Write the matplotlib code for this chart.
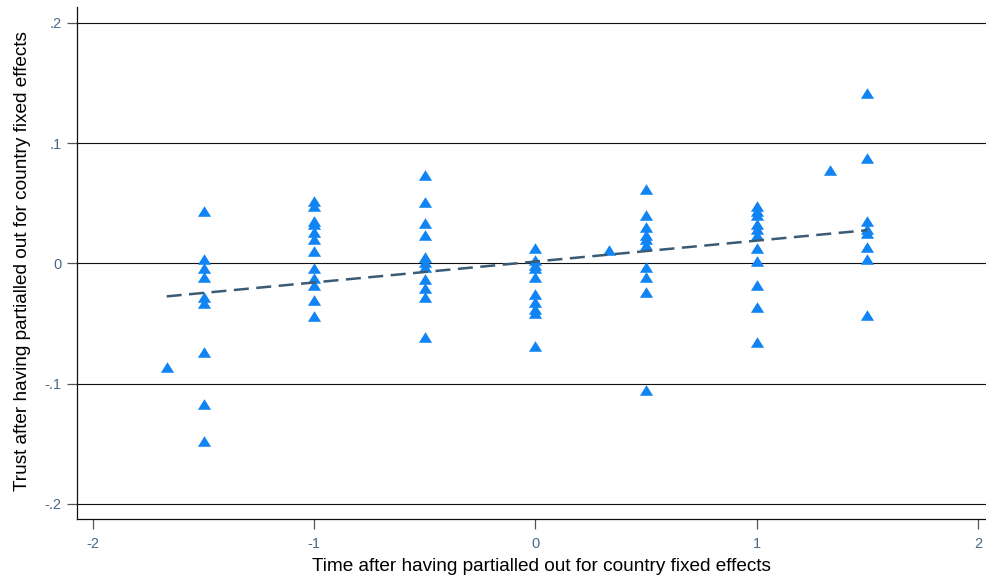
import numpy as np
import matplotlib
matplotlib.use("Agg")
import matplotlib.pyplot as plt

plt.rcParams['font.family'] = ['Liberation Sans', 'DejaVu Sans']

# residualised time (x) and trust (y), grouped by x position
x_groups = [-5 / 3, -1.5, -1.0, -0.5, 0.0, 1 / 3, 0.5, 1.0, 4 / 3, 1.5]
y_groups = [
    [-0.086],
    [0.044, 0.004, -0.004, -0.011, -0.028, -0.033, -0.074, -0.117, -0.148],
    [0.052, 0.048, 0.035, 0.033, 0.026, 0.020, 0.010, -0.004, -0.012, -0.018, -0.030, -0.044],
    [0.074, 0.051, 0.034, 0.024, 0.005, 0.001, -0.003, -0.013, -0.020, -0.028, -0.061],
    [0.013, 0.003, -0.001, -0.004, -0.011, -0.025, -0.032, -0.038, -0.041, -0.069],
    [0.011],
    [0.062, 0.040, 0.030, 0.024, 0.020, 0.015, -0.003, -0.011, -0.024, -0.105],
    [0.048, 0.044, 0.040, 0.033, 0.029, 0.024, 0.013, 0.002, -0.018, -0.036, -0.065],
    [0.078],
    [0.142, 0.088, 0.035, 0.029, 0.025, 0.014, 0.004, -0.043],
]

x_ticks = [-2, -1, 0, 1, 2]
x_ticklabels = ['-2', '-1', '0', '1', '2']
y_ticks = [-0.2, -0.1, 0, 0.1, 0.2]
y_ticklabels = ['-.2', '-.1', '0', '.1', '.2']

xs = np.concatenate([[gx] * len(gy) for gx, gy in zip(x_groups, y_groups)])
ys = np.concatenate(y_groups)

tick_color = '#4a6a86'
marker_color = '#0f84f2'
fit_color = '#3b5a74'

fig = plt.figure(figsize=(9.87, 5.81), dpi=100)
ax = fig.add_axes([77 / 987, 62 / 581, 910 / 987, 512 / 581])

# horizontal grid lines at each y tick
for yt in y_ticks:
    ax.axhline(yt, color='#111111', lw=0.8, zorder=1)

tri = [(0, 0.8), (-1, -0.8), (1, -0.8)]
ax.plot(xs, ys, linestyle='none', marker=tri, markersize=9.5,
        color=marker_color, markeredgewidth=0, zorder=3)

# linear fit
slope, intercept = np.polyfit(xs, ys, 1)
xf = np.array([xs.min(), xs.max()])
ax.plot(xf, intercept + slope * xf, color=fit_color, lw=1.8,
        dashes=(6, 3), zorder=4)

ax.set_xlim(-2.072, 2.041)
ax.set_ylim(-0.2125, 0.2133)
ax.set_xticks(x_ticks)
ax.set_xticklabels(x_ticklabels)
ax.set_yticks(y_ticks)
ax.set_yticklabels(y_ticklabels)
ax.tick_params(axis='both', direction='out', length=7, width=0.9,
               color='#555555', labelcolor=tick_color, labelsize=10.5, pad=4)
ax.tick_params(axis='x', pad=6)

for side in ['top', 'right']:
    ax.spines[side].set_visible(False)
for side in ['left', 'bottom']:
    ax.spines[side].set_linewidth(0.9)
    ax.spines[side].set_color('#111111')

ax.set_xlabel('Time after having partialled out for country fixed effects',
              fontsize=13.7)
ax.set_ylabel('Trust after having partialled out for country fixed effects',
              fontsize=13.7)
ax.xaxis.set_label_coords(0.5104, -0.076)
ax.yaxis.set_label_coords(-0.051, 0.503)

fig.savefig('out.png', dpi=100)
